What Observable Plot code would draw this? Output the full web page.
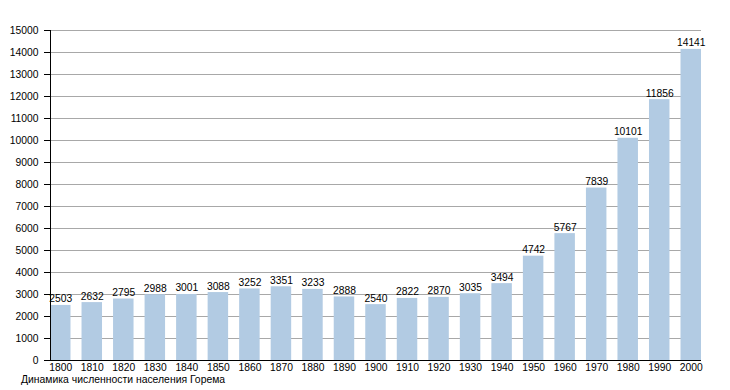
<!DOCTYPE html>
<html>
<head>
<meta charset="utf-8">
<script src="https://cdn.jsdelivr.net/npm/d3@7"></script>
<script src="https://cdn.jsdelivr.net/npm/@observablehq/plot@0.6"></script>
<style>
  body { margin: 0; background: #fff; font-family: "Liberation Sans", Arial, sans-serif; }
  #caption { font-size: 10.4px; line-height: 13px; margin-left: 21px; color: #000; }
</style>
</head>
<body>
<div id="chart"></div>
<div id="caption">Динамика численности населения Горема</div>
<script>
const years = ["1800","1810","1820","1830","1840","1850","1860","1870","1880","1890","1900","1910","1920","1930","1940","1950","1960","1970","1980","1990","2000"];
const population = [2503,2632,2795,2988,3001,3088,3252,3351,3233,2888,2540,2822,2870,3035,3494,4742,5767,7839,10101,11856,14141];
const yTicks = [0,1000,2000,3000,4000,5000,6000,7000,8000,9000,10000,11000,12000,13000,14000,15000];

const data = years.map((y, i) => ({year: y, value: population[i]}));

const chart = Plot.plot({
  width: 730,
  height: 373,
  marginLeft: 50,
  marginRight: 29,
  marginTop: 30,
  marginBottom: 13,
  style: {fontFamily: "Liberation Sans, Arial, sans-serif", fontSize: "10.3px", color: "#000", background: "#fff"},
  x: {domain: years, paddingInner: 0.35, paddingOuter: 0, round: false},
  y: {domain: [0, 15000]},
  marks: [
    Plot.gridY(yTicks, {stroke: "#a8a8a8", strokeOpacity: 1}),
    Plot.barY(data, {x: "year", y: "value", fill: "#b2cbe3"}),
    Plot.text(data, {x: "year", y: "value", text: d => String(d.value), lineAnchor: "bottom", dy: -3, fill: "#000", fontSize: 10.3}),
    Plot.axisY(yTicks, {tickSize: 6, tickPadding: 6, tickFormat: d => String(d), fontSize: 10.3, fill: "#000", stroke: "#000", label: null}),
    Plot.axisX({tickSize: 0, tickPadding: 3, fontSize: 10.3, fill: "#000", label: null}),
    Plot.ruleY([0], {stroke: "#000"}),
    Plot.frame({anchor: "left", stroke: "#000"})
  ]
});
document.getElementById("chart").appendChild(chart);
</script>
</body>
</html>
